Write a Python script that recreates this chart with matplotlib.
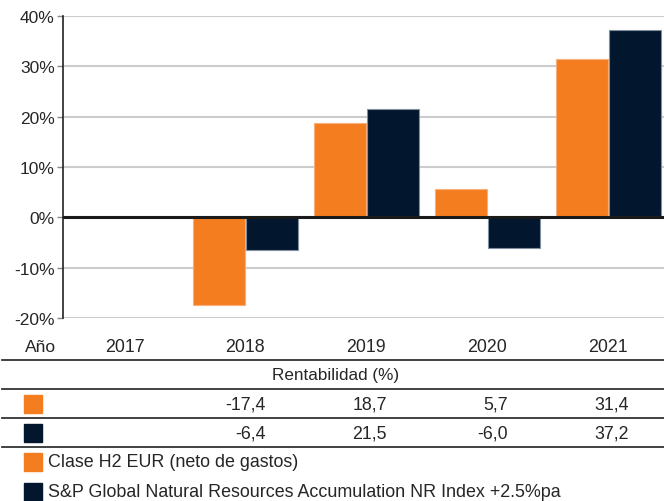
import numpy as np
import matplotlib.pyplot as plt
from matplotlib import transforms
from matplotlib.lines import Line2D
from matplotlib.patches import Rectangle

plt.rcParams['font.family'] = ['Liberation Sans', 'DejaVu Sans']

# data
years = ['2017', '2018', '2019', '2020', '2021']
fund = [None, -17.4, 18.7, 5.7, 31.4]        # Clase H2 EUR
index = [None, -6.4, 21.5, -6.0, 37.2]       # S&P GNR +2.5%pa
series_names = ['Clase H2 EUR (neto de gastos)',
                'S&P Global Natural Resources Accumulation NR Index +2.5%pa']
yticks = [-20, -10, 0, 10, 20, 30, 40]

orange = '#f47d20'
navy = '#02172d'
txt = '#262626'

W, H = 664, 502
fig = plt.figure(figsize=(W / 100, H / 100), dpi=100)

# main chart area (pixel positions)
ax = fig.add_axes([63 / W, 1 - 319 / H, 1 - 63 / W, (319 - 17) / H])

x = np.arange(len(years))
bw = 0.43
f_vals = [np.nan if v is None else v for v in fund]
i_vals = [np.nan if v is None else v for v in index]
ax.bar(x, f_vals, width=-bw, align='edge', color=orange,
       edgecolor='#f8b07a', linewidth=0.8, zorder=3)
ax.bar(x + 0.008, i_vals, width=bw, align='edge', color=navy,
       edgecolor='#8090a0', linewidth=0.8, zorder=3)

ax.set_xlim(-0.508, 4.46)
ax.set_ylim(-20, 40)
ax.set_yticks(yticks)
ax.set_yticklabels([f'{t}%' for t in yticks])
ax.set_xticks([])
ax.tick_params(axis='y', length=4, width=1, color='#888888',
               labelsize=12.5, labelcolor=txt, pad=2)
ax.grid(axis='y', color='#cccccc', linewidth=1.5, zorder=0)
ax.axhline(0, color='#1a1a1a', linewidth=2.2, zorder=4)
for s in ['top', 'right', 'bottom']:
    ax.spines[s].set_visible(False)
ax.spines['left'].set_color('#222222')
ax.spines['left'].set_linewidth(1.2)

# table below the chart
tr = transforms.blended_transform_factory(ax.transData, fig.transFigure)

def fy(py):
    return 1 - py / H

fig.text(25 / W, fy(347), 'Año', ha='left', va='center', fontsize=12.5, color=txt)
for i, yr in enumerate(years):
    fig.text(x[i], fy(347), yr, transform=tr, ha='center', va='center',
             fontsize=12.8, color=txt)
fig.text(336 / W, fy(376), 'Rentabilidad (%)', ha='center', va='center',
         fontsize=12.3, color=txt)

for row_y, vals in [(405, fund), (434, index)]:
    for i, v in enumerate(vals):
        if v is None:
            continue
        fig.text(x[i] + 0.168, fy(row_y), f'{v:.1f}'.replace('.', ','),
                 transform=tr, ha='right', va='center', fontsize=12.8, color=txt)

for py in [361, 390, 419, 448]:
    fig.add_artist(Line2D([0.003, 1], [fy(py), fy(py)], transform=fig.transFigure,
                          color='#333333', linewidth=1.3))

sq = 18
for cy, col in [(404.5, orange), (434, navy), (463, orange), (493, navy)]:
    fig.add_artist(Rectangle((24 / W, fy(cy + sq / 2)), sq / W, sq / H,
                             transform=fig.transFigure, color=col))
for cy, name in [(463, series_names[0]), (493, series_names[1])]:
    fig.text(48 / W, fy(cy), name, ha='left', va='center', fontsize=12.9, color=txt)

fig.savefig('out.png', dpi=100)
